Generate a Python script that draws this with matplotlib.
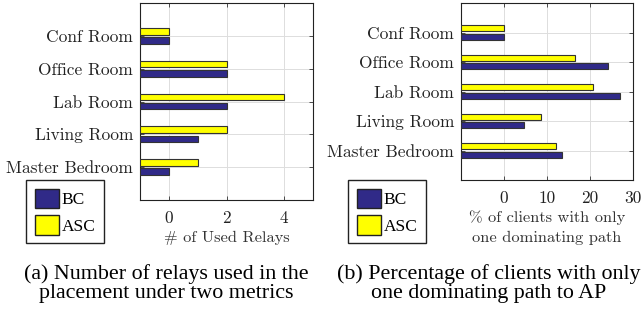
import numpy as np
import matplotlib.pyplot as plt
from matplotlib.patches import Patch

rooms = ["Master Bedroom", "Living Room", "Lab Room", "Office Room", "Conf Room"]
relays_bc = [0, 1, 2, 2, 0]
relays_asc = [1, 2, 4, 2, 0]
pct_bc = [13.5, 4.7, 27.0, 24.3, 0]
pct_asc = [12.2, 8.5, 20.7, 16.4, 0]

BC_COL = "#302a88"
ASC_COL = "#ffff00"

plt.rcParams["font.family"] = ["cmr10", "DejaVu Serif"]
plt.rcParams["axes.formatter.use_mathtext"] = True


def draw_panel(ax, bc, asc, xmin, xmax, xticks, xlabel):
    y = np.arange(1, len(rooms) + 1)
    h = 0.2
    off = 0.14
    ax.barh(y + off, np.array(asc) - xmin, left=xmin, height=h,
            color=ASC_COL, edgecolor="#333333", linewidth=0.8, zorder=3)
    ax.barh(y - off, np.array(bc) - xmin, left=xmin, height=h,
            color=BC_COL, edgecolor="#333333", linewidth=0.8, zorder=3)
    ax.set_xlim(xmin, xmax)
    ax.set_ylim(0, 6)
    ax.set_yticks(y)
    ax.set_yticklabels(rooms, fontsize=12.5)
    ax.set_xticks(xticks)
    ax.set_xticklabels([str(t) for t in xticks], fontsize=12.5)
    ax.set_xlabel(xlabel, fontsize=11.8, color="#333333", labelpad=3,
                  linespacing=1.45)
    ax.grid(True, color="#dddddd", linewidth=0.7, zorder=0)
    ax.tick_params(direction="in", top=True, right=True, length=3,
                   width=0.6, colors="#333333", labelcolor="#222222")
    ax.tick_params(axis="x", pad=8)
    ax.tick_params(axis="y", pad=5)
    for s in ax.spines.values():
        s.set_linewidth(0.8)
        s.set_color("#222222")


fig = plt.figure(figsize=(6.42, 3.09), dpi=100)
ax1 = fig.add_axes([140 / 642, 1 - 200 / 309, 173 / 642, 197 / 309])
ax2 = fig.add_axes([461 / 642, 1 - 180 / 309, 172 / 642, 177 / 309])

draw_panel(ax1, relays_bc, relays_asc, -1, 5, [0, 2, 4], "# of Used Relays")
draw_panel(ax2, pct_bc, pct_asc, -10, 30, [0, 10, 20, 30],
           "% of clients with only\none dominating path")

handles = [Patch(facecolor=BC_COL, edgecolor="#222222", label="BC"),
           Patch(facecolor=ASC_COL, edgecolor="#222222", label="ASC")]
for x0, y0 in [(26, 180), (348, 180)]:
    fig.legend(handles=handles, loc="upper left",
               bbox_to_anchor=(x0 / 642, 1 - y0 / 309), fancybox=False,
               edgecolor="#222222", framealpha=1,
               handlelength=1.4, handleheight=1.35, handletextpad=0.15,
               labelspacing=0.4, borderpad=0.5, borderaxespad=0,
               prop={"family": "Liberation Serif", "size": 12.5})

cap_font = {"family": "Liberation Serif", "size": 15.8}
fig.text(166 / 642, 1 - 284 / 309,
         "(a) Number of relays used in the\nplacement under two metrics",
         ha="center", va="center", fontdict=cap_font, linespacing=1.0)
fig.text(489 / 642, 1 - 284 / 309,
         "(b) Percentage of clients with only\none dominating path to AP",
         ha="center", va="center", fontdict=cap_font, linespacing=1.0)

fig.savefig("out.png", dpi=100)
